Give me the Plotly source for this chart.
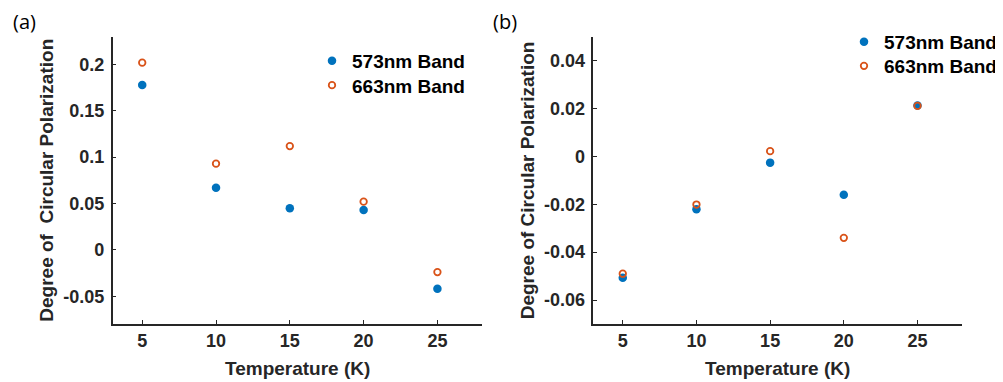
import plotly.graph_objects as go

temps = [5, 10, 15, 20, 25]
a_573 = [0.178, 0.067, 0.045, 0.043, -0.042]
a_663 = [0.202, 0.093, 0.112, 0.052, -0.024]
b_573 = [-0.0507, -0.0221, -0.0026, -0.016, 0.0213]
b_663 = [-0.049, -0.0201, 0.0022, -0.034, 0.0211]

x_ticks = [5, 10, 15, 20, 25]
x_ticklabels = ["5", "10", "15", "20", "25"]
a_yticks = [-0.05, 0, 0.05, 0.1, 0.15, 0.2]
a_yticklabels = ["-0.05", "0", "0.05", "0.1", "0.15", "0.2"]
b_yticks = [-0.06, -0.04, -0.02, 0, 0.02, 0.04]
b_yticklabels = ["-0.06", "-0.04", "-0.02", "0", "0.02", "0.04"]
series_names = ["573nm Band", "663nm Band"]

BLUE = "#0072BD"
ORANGE = "#D95319"
AX = "#262626"
FONT = "Liberation Sans, Arial, sans-serif"

# page body has an 8px margin; compensate so screenshot pixel positions match
OFF = 8
W, H = 1003 - OFF, 382 - OFF


def px_x(p):
    return (p - OFF) / W


def px_y(p):
    return (H - (p - OFF)) / H


def bold(lst):
    return ["<b>%s</b>" % s for s in lst]


filled = dict(symbol="circle", size=8.5, color=BLUE)
hollow = dict(symbol="circle-open", size=6.5, color=ORANGE, line=dict(width=1.8, color=ORANGE))

fig = go.Figure()
fig.add_trace(go.Scatter(x=temps, y=a_573, mode="markers", name="<b>%s</b>" % series_names[0],
                         marker=filled, xaxis="x", yaxis="y", legend="legend"))
fig.add_trace(go.Scatter(x=temps, y=a_663, mode="markers", name="<b>%s</b>" % series_names[1],
                         marker=hollow, xaxis="x", yaxis="y", legend="legend2"))
fig.add_trace(go.Scatter(x=temps, y=b_573, mode="markers", name="<b>%s</b>" % series_names[0],
                         marker=filled, xaxis="x2", yaxis="y2", legend="legend3"))
fig.add_trace(go.Scatter(x=temps, y=b_663, mode="markers", name="<b>%s</b>" % series_names[1],
                         marker=hollow, xaxis="x2", yaxis="y2", legend="legend4"))

axis_common = dict(showline=True, linecolor=AX, linewidth=1.5, ticks="inside", ticklen=4,
                   tickwidth=1, tickcolor=AX, showgrid=False, zeroline=False,
                   tickfont=dict(family=FONT, size=18, color=AX))

ydom = [px_y(324), px_y(36.7)]


def leg(xpx, ypx):
    return dict(x=px_x(xpx), y=px_y(ypx), xanchor="left", yanchor="middle",
                bgcolor="rgba(0,0,0,0)", font=dict(family=FONT, size=19, color="black"))


fig.update_layout(
    width=W, height=H,
    margin=dict(l=0, r=0, t=0, b=0),
    paper_bgcolor="white", plot_bgcolor="white",
    font=dict(family=FONT, color=AX),
    xaxis=dict(domain=[px_x(112.7), px_x(481.7)], range=[3, 28], tickvals=x_ticks,
               ticktext=bold(x_ticklabels), anchor="y", **axis_common),
    yaxis=dict(domain=ydom, range=[-0.08, 0.23], tickvals=a_yticks, ticktext=bold(a_yticklabels),
               anchor="x", ticklabelstandoff=3, **axis_common),
    xaxis2=dict(domain=[px_x(593.3), px_x(961.7)], range=[3, 28], tickvals=x_ticks,
                ticktext=bold(x_ticklabels), anchor="y2", **axis_common),
    yaxis2=dict(domain=ydom, range=[-0.07, 0.05], tickvals=b_yticks, ticktext=bold(b_yticklabels),
                anchor="x2", ticklabelstandoff=3, **axis_common),
    legend=leg(312, 61),
    legend2=leg(312, 85.3),
    legend3=leg(844, 42),
    legend4=leg(844, 66),
    showlegend=True,
)

title_font = dict(family=FONT, size=19, color=AX)
ann = [
    dict(text="<b>Temperature (K)</b>", x=px_x(297), y=px_y(368), xref="paper", yref="paper",
         showarrow=False, font=title_font, xanchor="center", yanchor="middle"),
    dict(text="<b>Temperature (K)</b>", x=px_x(777.5), y=px_y(368), xref="paper", yref="paper",
         showarrow=False, font=title_font, xanchor="center", yanchor="middle"),
    dict(text="<b>Degree of  Circular Polarization</b>", x=px_x(46.7), y=px_y(180), xref="paper", yref="paper",
         showarrow=False, font=title_font, textangle=-90, xanchor="center", yanchor="middle"),
    dict(text="<b>Degree of Circular Polarization</b>", x=px_x(528.3), y=px_y(180), xref="paper", yref="paper",
         showarrow=False, font=title_font, textangle=-90, xanchor="center", yanchor="middle"),
    dict(text="(a)", x=px_x(24), y=px_y(21), xref="paper", yref="paper", showarrow=False,
         font=dict(family="Open Sans, sans-serif", size=20, color="black"), xanchor="center", yanchor="middle"),
    dict(text="(b)", x=px_x(505), y=px_y(21), xref="paper", yref="paper", showarrow=False,
         font=dict(family="Open Sans, sans-serif", size=20, color="black"), xanchor="center", yanchor="middle"),
]
fig.update_layout(annotations=ann)

fig.write_html("out.html")
